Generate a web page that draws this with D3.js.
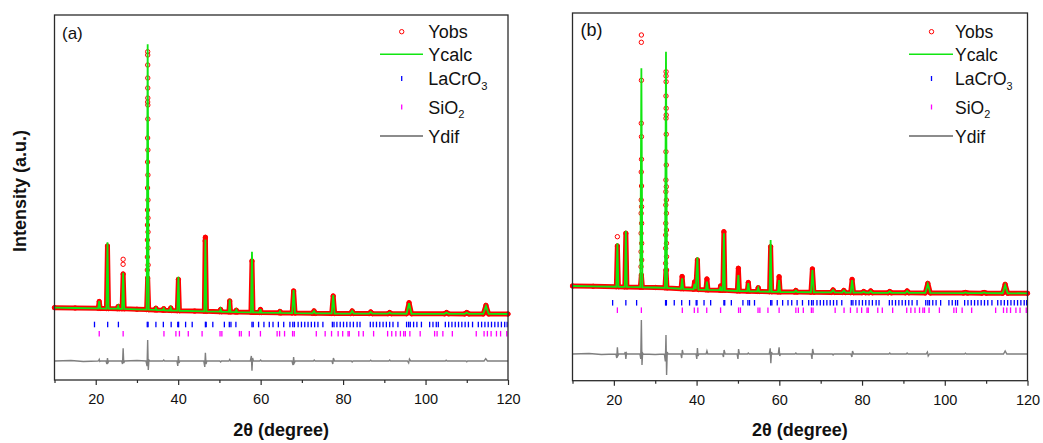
<!DOCTYPE html>
<html>
<head>
<meta charset="utf-8">
<script src="https://cdn.jsdelivr.net/npm/d3@7"></script>
<style>
  body { margin: 0; background: #fff; }
  text { font-family: "Liberation Sans", Arial, sans-serif; }
</style>
</head>
<body>
<div id="chart"></div>
<script>
const width = 1043, height = 443;

// axis ticks (2theta)
const majorTicks = [20, 40, 60, 80, 100, 120];
const minorTicks = [10, 30, 50, 70, 90, 110];

// Bragg reflections (2theta, degree)
const lacroTicks = [19.7, 22.9, 25.5, 32.5, 32.7, 34.6, 36.4, 38.3, 39.9, 40.1, 41.8, 43.4, 46.6, 46.8, 48.4,
  51.2, 52.4, 52.8, 54.0, 57.9, 58.2, 59.5, 60.8, 62.1, 63.0, 64.3, 65.6, 67.1, 67.8, 68.2, 69.1, 69.9,
  70.7, 71.5, 72.3, 73.1, 73.9, 75.1, 77.4, 77.8, 78.5, 79.3, 80.1, 80.9, 81.7, 82.5, 83.4, 84.1, 86.6,
  87.3, 88.1, 88.9, 89.7, 90.5, 91.3, 92.1, 93.3, 95.4, 95.9, 96.3, 97.1, 97.9, 99.0, 101.0, 101.8,
  102.6, 103.1, 104.8, 105.6, 106.4, 107.2, 108.0, 108.8, 109.6, 110.4, 111.4, 112.8, 113.6, 114.4,
  115.2, 116.0, 116.8, 117.6, 118.4, 119.2, 119.8];
const sio2Ticks = [20.85, 26.65, 36.55, 39.45, 40.3, 42.45, 45.8, 50.15, 50.6, 54.85, 55.3, 57.25, 59.95,
  64.0, 64.6, 65.8, 67.75, 68.15, 73.5, 75.65, 77.2, 78.8, 79.9, 81.2, 81.5, 83.8, 84.9, 87.4, 90.8,
  91.8, 92.8, 93.9, 94.7, 95.1, 96.2, 98.7, 102.2, 102.8, 104.2, 106.5, 112.3, 114.2, 115.0, 115.9,
  117.2, 118.2, 119.7];

// ---- panel (a) ----
const calcA = [[10, 2132], [15, 2120], [20.6, 2106], [20.85, 2400], [21.1, 2104], [22.6, 2098], [22.85, 4748],
  [23.1, 2096], [25.25, 2092], [25.45, 2200], [25.65, 2090], [26.4, 2088], [26.65, 3532], [26.9, 2086],
  [30, 2068], [32.35, 2056], [32.6, 12668], [32.85, 2052], [34.4, 2044], [34.6, 2120], [34.8, 2040],
  [36.3, 2032], [36.5, 2100], [36.7, 2030], [38.0, 2022], [38.2, 2130], [38.4, 2020], [39.8, 2014],
  [40.05, 3372], [40.3, 2010], [44, 1996], [46.35, 1988], [46.6, 4860], [46.85, 1986], [50.1, 1972],
  [50.3, 2080], [50.5, 1970], [52.3, 1964], [52.5, 2460], [52.7, 1962], [53.9, 1958], [54.1, 2040],
  [54.3, 1956], [57.65, 1946], [57.9, 4372], [58.15, 1944], [59.75, 1940], [59.95, 2070], [60.15, 1938],
  [64.5, 1926], [64.7, 1990], [64.9, 1924], [67.65, 1918], [68.0, 2840], [68.35, 1916], [72.6, 1906],
  [72.95, 2000], [73.3, 1905], [77.25, 1902], [77.6, 2640], [77.95, 1900], [81.8, 1899], [82.2, 2000],
  [82.6, 1898], [86.3, 1896], [86.7, 1960], [87.1, 1895], [90.9, 1893], [91.3, 1940], [91.7, 1892],
  [95.4, 1890], [96.0, 2308], [96.6, 1889], [104.6, 1887], [105.1, 1940], [105.6, 1887], [109.5, 1885],
  [110.0, 1940], [110.5, 1884], [114.0, 1883], [114.65, 2200], [115.3, 1882], [120, 1880]];

const obsA = [[10, 2132], [15, 2120], [20.6, 2106], [20.85, 2380], [21.1, 2104], [22.6, 2098], [22.85, 4600],
  [23.1, 2096], [25.25, 2092], [25.45, 2180], [25.65, 2090], [26.4, 2088], [26.65, 3480], [26.9, 2086],
  [30, 2068], [32.35, 2056], [32.6, 3320], [32.85, 2052], [34.4, 2044], [34.6, 2110],
  [34.8, 2040], [36.3, 2032], [36.5, 2090], [36.7, 2030], [38.0, 2022], [38.2, 2120], [38.4, 2020],
  [39.8, 2014], [40.05, 3264], [40.3, 2010], [44, 1996], [46.35, 1988], [46.55, 4800], [46.6, 4948],
  [46.85, 1986], [50.1, 1972], [50.3, 2060], [50.5, 1970], [52.3, 1964], [52.5, 2400], [52.7, 1962],
  [53.9, 1958], [54.1, 2030], [54.3, 1956], [57.65, 1946], [57.9, 4000], [58.15, 1944], [59.75, 1940],
  [59.95, 2060], [60.15, 1938], [64.5, 1926], [64.7, 1980], [64.9, 1924], [67.65, 1918], [68.0, 2800],
  [68.35, 1916], [72.6, 1906], [72.95, 2000], [73.3, 1905], [77.25, 1902], [77.6, 2600], [77.95, 1900],
  [81.8, 1899], [82.2, 2000], [82.6, 1898], [86.3, 1896], [86.7, 1960], [87.1, 1895], [90.9, 1893],
  [91.3, 1940], [91.7, 1892], [95.4, 1890], [96.0, 2332], [96.6, 1889], [104.6, 1887], [105.1, 1940],
  [105.6, 1887], [109.5, 1885], [110.0, 1940], [110.5, 1884], [114.0, 1883], [114.65, 2224],
  [115.3, 1882], [120, 1880]];

// separate observed points on the tops of the strong reflections
const obsPeakA = [[26.64, 3868], [26.65, 4068],
  [32.52, 3640], [32.53, 4160], [32.54, 4840], [32.55, 5440], [32.56, 6040], [32.57, 6920],
  [32.58, 7960], [32.59, 8920], [32.6, 10360], [32.6, 12372], [32.61, 12240], [32.62, 11320], [32.63, 10520],
  [32.64, 10240], [32.64, 9680], [32.65, 8440], [32.66, 7440], [32.67, 6440], [32.68, 5720], [32.68, 5160],
  [32.69, 4520], [32.7, 3840], [32.61, 11840], [32.62, 10920]];

const diffA = [[10, 0], [14, 20], [17, -20], [20.5, 0], [20.7, 10], [20.85, 60], [21.0, -20], [21.2, 0],
  [22.5, 0], [22.7, -120], [22.85, 120], [23.0, -60], [23.2, 0], [26.3, 0], [26.5, -120], [26.65, 508],
  [26.8, -80], [27.0, 0], [30, 20], [32.2, 0], [32.45, -200], [32.6, 840], [32.75, -360], [32.9, 40],
  [33.1, 0], [36.3, 0], [36.5, 40], [36.7, 0], [39.7, 0], [39.9, -200], [40.05, 200], [40.2, -80],
  [40.4, 0], [46.2, 0], [46.45, -240], [46.6, 332], [46.75, -120], [46.95, 0], [50.1, 0], [50.3, -40],
  [50.5, 0], [52.3, 0], [52.5, 60], [52.7, 0], [57.5, 0], [57.75, 200], [57.9, -388], [58.05, 120],
  [58.25, 0], [59.8, 0], [60, 40], [60.2, 0], [67.6, 0], [67.85, -160], [68.0, 160], [68.15, -80],
  [68.4, 0], [72.8, 0], [73, 40], [73.2, 0], [77.3, 0], [77.5, -120], [77.65, 120], [77.9, 0], [82, 0],
  [82.2, -40], [82.4, 0], [86.5, 0], [86.7, 30], [86.9, 0], [91.1, 0], [91.3, 40], [91.5, 0], [95.6, 0],
  [95.9, -80], [96.1, 80], [96.4, 0], [104.8, 0], [105, 30], [105.2, 0], [109.8, 0], [110, -30],
  [110.2, 0], [114.2, 0], [114.6, 92], [115, 0], [120, 0]];

// ---- panel (b) ----
const calcB = [[10, 2720], [15, 2706], [20.6, 2690], [20.85, 4428], [21.1, 2688], [22.65, 2684], [22.9, 4932],
  [23.15, 2682], [26.4, 2672], [26.65, 11428], [26.9, 2670], [30, 2660], [32.35, 2646], [32.6, 12092],
  [32.85, 2642], [36.25, 2612], [36.5, 3028], [36.75, 2608], [39.25, 2588], [39.5, 2800], [39.8, 2600],
  [40.2, 3868], [40.45, 2578], [42.25, 2566], [42.5, 2892], [42.75, 2562], [45.6, 2552], [45.8, 2700],
  [46.0, 2550], [46.35, 2548], [46.6, 4828], [46.85, 2546], [49.85, 2522], [50.1, 3160], [50.35, 2520],
  [52.25, 2512], [52.5, 2840], [52.75, 2510], [54.65, 2502], [54.9, 2640], [55.15, 2500], [57.65, 2490],
  [57.9, 4560], [58.15, 2488], [59.7, 2482], [59.95, 2960], [60.2, 2480], [63.7, 2476], [64.0, 2540],
  [64.3, 2475], [67.65, 2470], [68.0, 3360], [68.35, 2468], [72.6, 2463], [73.0, 2560], [73.4, 2462],
  [75.2, 2458], [75.6, 2540], [76.0, 2457], [77.25, 2455], [77.6, 2960], [77.95, 2454], [80.0, 2452],
  [80.4, 2500], [80.8, 2451], [81.7, 2450], [82.1, 2520], [82.5, 2449], [86.3, 2448], [86.7, 2500],
  [87.1, 2447], [90.5, 2446], [90.9, 2520], [91.3, 2446], [95.3, 2443], [95.9, 2800], [96.5, 2442],
  [104.5, 2438], [105.0, 2460], [105.5, 2437], [109.0, 2434], [109.5, 2460], [110.0, 2434],
  [114.0, 2431], [114.6, 2760], [115.2, 2430], [120, 2428]];

const obsB = [[10, 2720], [15, 2706], [20.6, 2690], [20.85, 4320], [21.1, 2688], [22.65, 2684], [22.9, 4828],
  [23.15, 2682], [26.4, 2672], [26.65, 3160], [26.9, 2670], [30, 2660], [32.35, 2646], [32.6, 3360],
  [32.85, 2642], [36.25, 2612], [36.5, 3100], [36.75, 2608], [39.25, 2588], [39.5, 2880], [39.8, 2600],
  [40.2, 3760], [40.45, 2578], [42.25, 2566], [42.5, 3000], [42.75, 2562], [45.6, 2552], [45.8, 2720],
  [46.0, 2550], [46.35, 2548], [46.6, 4892], [46.85, 2546], [49.85, 2522], [50.1, 3428], [50.35, 2520],
  [52.25, 2512], [52.5, 2860], [52.75, 2510], [54.65, 2502], [54.9, 2650], [55.15, 2500], [57.65, 2490],
  [57.9, 4292], [58.15, 2488], [59.7, 2482], [59.95, 3092], [60.2, 2480], [63.7, 2476], [64.0, 2540],
  [64.3, 2475], [67.65, 2470], [68.0, 3400], [68.35, 2468], [72.6, 2463], [73.0, 2560], [73.4, 2462],
  [75.2, 2458], [75.6, 2540], [76.0, 2457], [77.25, 2455], [77.6, 2984], [77.95, 2454], [80.0, 2452],
  [80.4, 2500], [80.8, 2451], [81.7, 2450], [82.1, 2520], [82.5, 2449], [86.3, 2448], [86.7, 2500],
  [87.1, 2447], [90.5, 2446], [90.9, 2520], [91.3, 2446], [95.3, 2443], [95.9, 2824], [96.5, 2442],
  [104.5, 2438], [105.0, 2460], [105.5, 2437], [109.0, 2434], [109.5, 2460], [110.0, 2434],
  [114.0, 2431], [114.6, 2784], [115.2, 2430], [120, 2428]];

const obsPeakB = [[20.85, 4692],
  [26.57, 3492], [26.58, 4092], [26.59, 4828], [26.6, 5628], [26.61, 6160], [26.62, 7280], [26.63, 9228],
  [26.64, 12468], [26.65, 12760], [26.66, 10948], [26.67, 8692], [26.68, 7788], [26.69, 6720], [26.7, 5892],
  [26.71, 5228], [26.72, 4428], [26.73, 3760],
  [32.52, 3628], [32.53, 4228], [32.54, 4760], [32.55, 5228], [32.56, 5960], [32.57, 6492], [32.58, 6960],
  [32.59, 8092], [32.6, 9428], [32.6, 10320], [32.61, 11120], [32.62, 11292], [32.63, 10892], [32.64, 9828],
  [32.65, 9560], [32.66, 8788], [32.67, 7560], [32.68, 6692], [32.69, 6160], [32.7, 5628], [32.71, 4960],
  [32.72, 4428], [32.73, 3892], [32.74, 3360]];

const diffB = [[10, 0], [14, 20], [17, -20], [20.5, 0], [20.7, -160], [20.85, 268], [21.0, -60], [21.2, 0],
  [22.6, 0], [22.75, 80], [22.9, -200], [23.05, 40], [23.2, 0], [26.3, 0], [26.5, -200], [26.65, 1360],
  [26.8, -440], [26.95, 40], [27.1, 0], [30, -20], [32.2, 0], [32.45, -300], [32.6, 760], [32.75, -840],
  [32.9, 80], [33.1, 0], [36.2, 0], [36.4, -160], [36.55, 160], [36.75, 0], [39.85, 0], [40.05, -200],
  [40.2, 240], [40.35, -80], [40.55, 0], [42.3, 0], [42.5, 120], [42.7, 0], [46.3, 0], [46.5, -120],
  [46.65, 160], [46.9, 0], [49.8, 0], [50.0, -200], [50.15, 200], [50.35, 0], [52.3, 0], [52.5, 40],
  [52.7, 0], [57.55, 0], [57.8, 228], [57.95, -372], [58.1, 80], [58.3, 0], [59.75, 0], [59.95, 268],
  [60.1, -80], [60.3, 0], [63.8, 0], [64, 40], [64.2, 0], [67.7, 0], [67.9, -200], [68.05, 200],
  [68.3, 0], [72.8, 0], [73, -40], [73.2, 0], [77.3, 0], [77.55, -120], [77.7, 120], [77.95, 0],
  [86.5, 0], [86.7, 40], [86.9, 0], [90.7, 0], [90.9, 40], [91.1, 0], [95.5, 0], [95.8, 80], [96.0, -80],
  [96.3, 0], [104.8, 0], [105, 30], [105.2, 0], [114.2, 0], [114.6, 120], [115, 0], [120, 0]];

const legendNames = ["Yobs", "Ycalc", "LaCrO", "SiO", "Ydif"];
const legendSubs = ["", "", "3", "2", ""];

const panels = [
  {label: "(a)", left: 54.5, right: 508, top: 15, bottom: 380, yDomain: [-760, 13840],
   calc: calcA, obs: obsA, obsPeak: obsPeakA, diff: diffA, lacroRow: 1460, sio2Row: 1092,
   labelX: 62, labelY: 38.5, labelSize: 17,
   leg: {line0: 380, line1: 423, mark: 401.7, text: 428.3, size: 18}},
  {label: "(b)", left: 572.5, right: 1027.5, top: 13, bottom: 380.7, yDomain: [-1068, 13640],
   calc: calcB, obs: obsB, obsPeak: obsPeakB, diff: diffB, lacroRow: 2048, sio2Row: 1752,
   labelX: 580.5, labelY: 35.5, labelSize: 18,
   leg: {line0: 909, line1: 953, mark: 931.5, text: 955, size: 17.5}}
];
const legendRows = [31.7, 54.3, 78.5, 107, 136];

const svg = d3.select("#chart").append("svg")
  .attr("width", width).attr("height", height);

function drawPanel(p) {
  const x = d3.scaleLinear().domain([10, 120]).range([p.left, p.right]);
  const y = d3.scaleLinear().domain(p.yDomain).range([p.bottom, p.top]);
  const line = d3.line().x(d => x(d[0])).y(d => y(d[1]));
  const g = svg.append("g");

  // Yobs: dense points merge into a band
  g.append("path").datum(p.obs)
    .attr("d", line).attr("fill", "none")
    .attr("stroke", "#ff0000").attr("stroke-width", 5)
    .attr("stroke-linejoin", "round").attr("stroke-linecap", "round");
  g.append("g").selectAll("circle")
    .data(p.obs.concat(p.obsPeak))
    .join("circle")
      .attr("cx", d => x(d[0])).attr("cy", d => y(d[1]))
      .attr("r", 2.2).attr("fill", "none")
      .attr("stroke", "#ff0000").attr("stroke-width", 1);

  // Ycalc
  g.append("path").datum(p.calc)
    .attr("d", line).attr("fill", "none")
    .attr("stroke", "#11e611").attr("stroke-width", 1.8);

  // Bragg positions
  const tickH = 5.6;
  g.append("g").selectAll("line").data(lacroTicks).join("line")
    .attr("x1", d => x(d)).attr("x2", d => x(d))
    .attr("y1", y(p.lacroRow) - tickH / 2).attr("y2", y(p.lacroRow) + tickH / 2)
    .attr("stroke", "#0000ff").attr("stroke-width", 1.3);
  g.append("g").selectAll("line").data(sio2Ticks).join("line")
    .attr("x1", d => x(d)).attr("x2", d => x(d))
    .attr("y1", y(p.sio2Row) - tickH / 2).attr("y2", y(p.sio2Row) + tickH / 2)
    .attr("stroke", "#ff00ff").attr("stroke-width", 1.3);

  // Ydif
  g.append("path").datum(p.diff)
    .attr("d", line).attr("fill", "none")
    .attr("stroke", "#7f7f7f").attr("stroke-width", 1.4);

  // frame
  g.append("rect")
    .attr("x", p.left).attr("y", p.top)
    .attr("width", p.right - p.left).attr("height", p.bottom - p.top)
    .attr("fill", "none").attr("stroke", "#2b2b2b").attr("stroke-width", 1.3);

  // x axis
  const gx = g.append("g").attr("transform", `translate(0,${p.bottom})`)
    .call(d3.axisBottom(x).tickValues(majorTicks).tickSize(5).tickPadding(9).tickFormat(d3.format("d")));
  gx.select(".domain").remove();
  gx.selectAll("line").attr("stroke", "#2b2b2b").attr("stroke-width", 1.2);
  gx.selectAll("text").attr("font-size", 14.5).attr("fill", "#111");
  const gm = g.append("g").attr("transform", `translate(0,${p.bottom})`)
    .call(d3.axisBottom(x).tickValues(minorTicks).tickSize(3).tickFormat(""));
  gm.select(".domain").remove();
  gm.selectAll("line").attr("stroke", "#2b2b2b").attr("stroke-width", 1.2);

  g.append("text")
    .attr("x", (p.left + p.right) / 2).attr("y", 436)
    .attr("text-anchor", "middle").attr("font-size", 18).attr("font-weight", "bold")
    .attr("fill", "#111")
    .text("2θ (degree)");

  g.append("text")
    .attr("x", p.labelX).attr("y", p.labelY)
    .attr("font-size", p.labelSize).attr("fill", "#111")
    .text(p.label);

  // legend
  const L = p.leg;
  const lg = g.append("g");
  const mk = lg.append("g");
  mk.append("circle").attr("cx", L.mark).attr("cy", legendRows[0]).attr("r", 2.2)
    .attr("fill", "none").attr("stroke", "#ff0000").attr("stroke-width", 1);
  mk.append("line").attr("x1", L.line0).attr("x2", L.line1)
    .attr("y1", legendRows[1]).attr("y2", legendRows[1])
    .attr("stroke", "#11e611").attr("stroke-width", 1.6);
  mk.append("line").attr("x1", L.mark).attr("x2", L.mark)
    .attr("y1", legendRows[2] - 2.5).attr("y2", legendRows[2] + 2.5)
    .attr("stroke", "#0000ff").attr("stroke-width", 1.3);
  mk.append("line").attr("x1", L.mark).attr("x2", L.mark)
    .attr("y1", legendRows[3] - 2.5).attr("y2", legendRows[3] + 2.5)
    .attr("stroke", "#ff00ff").attr("stroke-width", 1.3);
  mk.append("line").attr("x1", L.line0).attr("x2", L.line1)
    .attr("y1", legendRows[4]).attr("y2", legendRows[4])
    .attr("stroke", "#8c8c8c").attr("stroke-width", 2);

  legendNames.forEach((name, i) => {
    const t = lg.append("text")
      .attr("x", L.text).attr("y", legendRows[i] + 6.6)
      .attr("font-size", L.size).attr("fill", "#111");
    t.append("tspan").text(name);
    if (legendSubs[i]) {
      t.append("tspan").attr("dy", 4.5).attr("font-size", L.size * 0.62).text(legendSubs[i]);
    }
  });
}

panels.forEach(drawPanel);

svg.append("text")
  .attr("transform", "translate(25.5,191) rotate(-90)")
  .attr("text-anchor", "middle").attr("font-size", 18).attr("font-weight", "bold")
  .attr("fill", "#111")
  .text("Intensity (a.u.)");
</script>
</body>
</html>
